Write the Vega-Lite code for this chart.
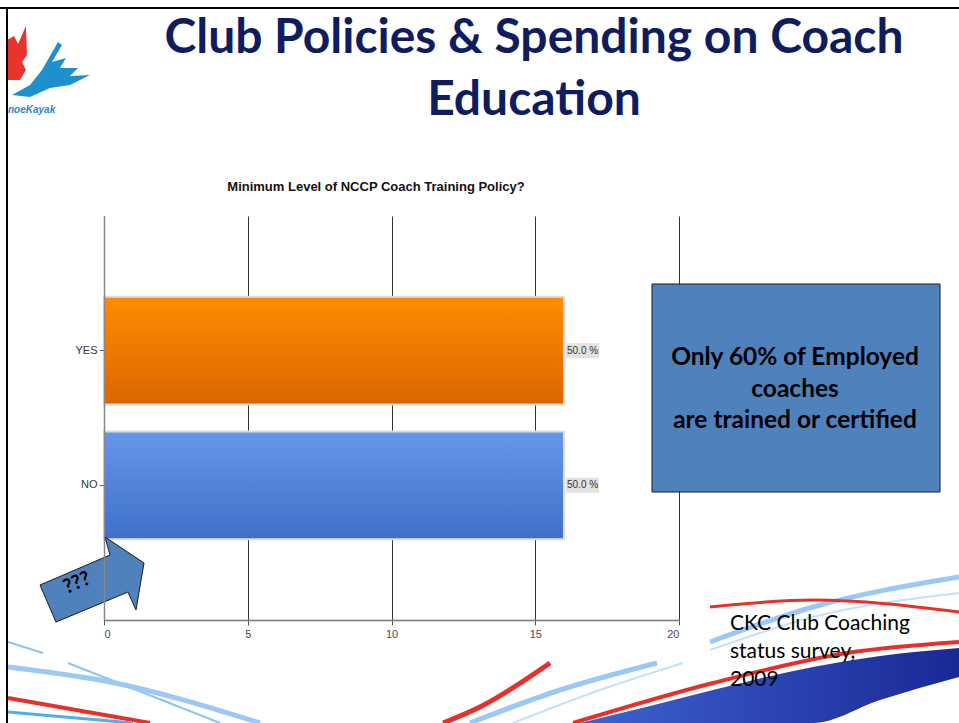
{
  "$schema": "https://vega.github.io/schema/vega-lite/v6.json",
  "width": 575,
  "height": 404,
  "autosize": {"type": "none"},
  "padding": {"left": 104, "top": 216, "right": 280, "bottom": 103},
  "background": "white",
  "config": {"view": {"stroke": null}},
  "resolve": {"scale": {"x": "independent", "y": "independent"}, "axis": {"x": "independent", "y": "independent"}},
  "layer": [
    {
      "data": {"values": [
        {"answer": "YES", "count": 16, "label": "50.0 %"},
        {"answer": "NO", "count": 16, "label": "50.0 %"}
      ]},
      "encoding": {
        "y": {"field": "answer", "type": "nominal", "sort": ["YES", "NO"],
          "scale": {"paddingInner": 0.2, "paddingOuter": 0.6},
          "axis": {"title": null, "domainColor": "#888888", "domainWidth": 1.5, "tickColor": "#666666", "tickSize": 5,
            "labelFont": "Liberation Sans", "labelFontSize": 11, "labelColor": "#333333", "labelPadding": 2, "zindex": 1}},
        "x": {"field": "count", "type": "quantitative", "scale": {"domain": [0, 20], "nice": false},
          "axis": {"title": null, "values": [0, 5, 10, 15, 20], "grid": true, "gridColor": "#333333", "gridWidth": 1, "gridOpacity": 1,
            "domainColor": "#777777", "domainWidth": 1.5, "tickColor": "#555555", "tickSize": 5,
            "labelFont": "Liberation Sans", "labelFontSize": 11, "labelColor": "#4a4a4a", "labelPadding": 3}}
      },
      "layer": [
        {"transform": [{"filter": "datum.answer === 'YES'"}],
         "mark": {"type": "bar", "stroke": "#dddddd", "strokeWidth": 2,
           "fill": {"gradient": "linear", "x1": 0, "y1": 0, "x2": 0, "y2": 1, "stops": [{"offset": 0, "color": "#ff8c00"}, {"offset": 1, "color": "#da6600"}]}}},
        {"transform": [{"filter": "datum.answer === 'NO'"}],
         "mark": {"type": "bar", "stroke": "#dddddd", "strokeWidth": 2,
           "fill": {"gradient": "linear", "x1": 0, "y1": 0, "x2": 0, "y2": 1, "stops": [{"offset": 0, "color": "#6697eb"}, {"offset": 1, "color": "#3f6fc8"}]}}},
        {"mark": {"type": "bar", "height": 15, "xOffset": 2, "x2Offset": 35, "fill": "#e2e2e2"},
         "encoding": {"x2": {"field": "count"}}},
        {"mark": {"type": "text", "align": "left", "baseline": "middle", "dx": 3, "font": "Liberation Sans", "fontSize": 10, "color": "#333333"},
         "encoding": {"text": {"field": "label"}}}
      ]
    },
    {
      "layer": [
        {
          "data": {"values": [
            {"s": "lbTR", "ax": 606, "ay": -22}, {"s": "lbTR", "ax": 709, "ay": 13}, {"s": "lbTR", "ax": 855, "ay": 43},
            {"s": "lbtR", "ax": 606, "ay": -30}, {"s": "lbtR", "ax": 709, "ay": 3}, {"s": "lbtR", "ax": 855, "ay": 27},
            {"s": "redTop", "ax": 606, "ay": 13}, {"s": "redTop", "ax": 709, "ay": 20}, {"s": "redTop", "ax": 855, "ay": 8},
            {"s": "redMid", "ax": 469, "ay": -103}, {"s": "redMid", "ax": 609, "ay": -63}, {"s": "redMid", "ax": 743, "ay": -33}, {"s": "redMid", "ax": 855, "ay": -22},
            {"s": "redRise", "ax": 339, "ay": -103}, {"s": "redRise", "ax": 376, "ay": -87}, {"s": "redRise", "ax": 446, "ay": -43},
            {"s": "lbTB", "ax": 366, "ay": -103}, {"s": "lbTB", "ax": 456, "ay": -70}, {"s": "lbTB", "ax": 553, "ay": -43},
            {"s": "lbtB", "ax": 409, "ay": -103}, {"s": "lbtB", "ax": 496, "ay": -70}, {"s": "lbtB", "ax": 579, "ay": -43},
            {"s": "lbtL1", "ax": -96, "ay": -22}, {"s": "lbtL1", "ax": -61, "ay": -33},
            {"s": "lbtL2", "ax": -36, "ay": -43}, {"s": "lbtL2", "ax": 116, "ay": -103},
            {"s": "lbTL", "ax": -96, "ay": -47}, {"s": "lbTL", "ax": 6, "ay": -62}, {"s": "lbTL", "ax": 156, "ay": -103},
            {"s": "redL", "ax": -96, "ay": -78}, {"s": "redL", "ax": 46, "ay": -103},
            {"s": "cyanL", "ax": -96, "ay": -92}, {"s": "cyanL", "ax": 29, "ay": -103}
          ]},
          "mark": {"type": "line", "interpolate": "monotone", "strokeCap": "butt"},
          "encoding": {
            "x": {"field": "ax", "type": "quantitative", "scale": {"domain": [0, 575], "nice": false, "zero": false}, "axis": null},
            "y": {"field": "ay", "type": "quantitative", "scale": {"domain": [0, 404], "nice": false, "zero": false}, "axis": null},
            "color": {"field": "s", "type": "nominal", "legend": null,
              "scale": {"domain": ["lbTR", "lbtR", "redTop", "redMid", "redRise", "lbTB", "lbtB", "lbtL1", "lbtL2", "lbTL", "redL", "cyanL"],
                "range": ["#9cc8f5", "#c6e0fa", "#e8302a", "#e8302a", "#e8302a", "#9cc8f5", "#c6e0fa", "#8cc4f0", "#8cc4f0", "#9cc8f5", "#e8302a", "#4fb0e8"]}},
            "strokeWidth": {"field": "s", "type": "nominal", "legend": null,
              "scale": {"type": "ordinal", "domain": ["lbTR", "lbtR", "redTop", "redMid", "redRise", "lbTB", "lbtB", "lbtL1", "lbtL2", "lbTL", "redL", "cyanL"],
                "range": [5, 2, 3, 4, 5, 5, 2, 2, 2, 5, 4, 3]}}
          }
        },
        {
          "data": {"values": [
            {"ax": 476, "top": -103, "bot": -103},
            {"ax": 546, "top": -86, "bot": -103},
            {"ax": 609, "top": -70, "bot": -103},
            {"ax": 709, "top": -47, "bot": -103},
            {"ax": 776, "top": -36, "bot": -80},
            {"ax": 855, "top": -28, "bot": -57}
          ]},
          "mark": {"type": "area", "interpolate": "monotone",
            "fill": {"gradient": "linear", "x1": 0, "y1": 0, "x2": 1, "y2": 0, "stops": [{"offset": 0, "color": "#3d63d0"}, {"offset": 1, "color": "#1a2896"}]}},
          "encoding": {
            "x": {"field": "ax", "type": "quantitative", "scale": {"domain": [0, 575], "nice": false, "zero": false}, "axis": null},
            "y": {"field": "top", "type": "quantitative", "scale": {"domain": [0, 404], "nice": false, "zero": false}, "axis": null},
            "y2": {"field": "bot"}
          }
        },
        {
          "data": {"values": [{"ax": -87, "ay": 567}]},
          "mark": {"type": "point", "filled": true, "opacity": 1, "size": 2916, "color": "#e8332e",
            "shape": "M-0.37,-0.48L-0.11,-0.63L0.04,-0.33L0.33,-1L0.37,0.07L0.19,0.33L0.33,0.63L0.11,1L-0.37,1Z"},
          "encoding": {
            "x": {"field": "ax", "type": "quantitative", "scale": {"domain": [0, 575], "nice": false, "zero": false}, "axis": null},
            "y": {"field": "ay", "type": "quantitative", "scale": {"domain": [0, 404], "nice": false, "zero": false}, "axis": null}
          }
        },
        {
          "data": {"values": [{"ax": -54, "ay": 550}]},
          "mark": {"type": "point", "filled": true, "opacity": 1, "size": 6400, "color": "#1e90d0",
            "shape": "M-0.95,0.625L-0.5,0.375L-0.2,0L0.2,-0.7L0.3,-0.625L0.05,-0.2L0.4,-0.3L0.25,-0.05L0.7,-0.05L0.5,0.15L1,0.125L0.5,0.375L0,0.45L-0.5,0.675Z"},
          "encoding": {
            "x": {"field": "ax", "type": "quantitative", "scale": {"domain": [0, 575], "nice": false, "zero": false}, "axis": null},
            "y": {"field": "ay", "type": "quantitative", "scale": {"domain": [0, 404], "nice": false, "zero": false}, "axis": null}
          }
        },
        {
          "data": {"values": [
            {"ax": -104, "ay": 612, "ax2": 855, "ay2": 612},
            {"ax": -97, "ay": 612, "ax2": -97, "ay2": -103}
          ]},
          "mark": {"type": "rule", "color": "#000000", "strokeWidth": 2},
          "encoding": {
            "x": {"field": "ax", "type": "quantitative", "scale": {"domain": [0, 575], "nice": false, "zero": false}, "axis": null},
            "y": {"field": "ay", "type": "quantitative", "scale": {"domain": [0, 404], "nice": false, "zero": false}, "axis": null},
            "x2": {"field": "ax2"},
            "y2": {"field": "ay2"}
          }
        },
        {
          "data": {"values": [{"ax": -96, "ay": 510, "t": "noeKayak"}]},
          "mark": {"type": "text", "align": "left", "baseline": "middle", "font": "Liberation Sans", "fontSize": 10, "fontWeight": "bold", "fontStyle": "italic", "color": "#2a86c8"},
          "encoding": {
            "x": {"field": "ax", "type": "quantitative", "scale": {"domain": [0, 575], "nice": false, "zero": false}, "axis": null},
            "y": {"field": "ay", "type": "quantitative", "scale": {"domain": [0, 404], "nice": false, "zero": false}, "axis": null},
            "text": {"field": "t"}
          }
        },
        {
          "data": {"values": [
            {"ax": 430, "ay": 567, "t": "Club Policies & Spending on Coach"},
            {"ax": 430, "ay": 505, "t": "Education"}
          ]},
          "mark": {"type": "text", "align": "center", "baseline": "alphabetic", "font": "Lato", "fontSize": 48, "fontWeight": "bold", "color": "#0f1d5e"},
          "encoding": {
            "x": {"field": "ax", "type": "quantitative", "scale": {"domain": [0, 575], "nice": false, "zero": false}, "axis": null},
            "y": {"field": "ay", "type": "quantitative", "scale": {"domain": [0, 404], "nice": false, "zero": false}, "axis": null},
            "text": {"field": "t"}
          }
        },
        {
          "data": {"values": [{"ax": 272, "ay": 429, "t": "Minimum Level of NCCP Coach Training Policy?"}]},
          "mark": {"type": "text", "align": "center", "baseline": "alphabetic", "font": "Liberation Sans", "fontSize": 13, "fontWeight": "bold", "color": "#111111"},
          "encoding": {
            "x": {"field": "ax", "type": "quantitative", "scale": {"domain": [0, 575], "nice": false, "zero": false}, "axis": null},
            "y": {"field": "ay", "type": "quantitative", "scale": {"domain": [0, 404], "nice": false, "zero": false}, "axis": null},
            "text": {"field": "t"}
          }
        },
        {
          "data": {"values": [{"ax": 548, "ay": 336, "ax2": 836, "ay2": 128}]},
          "mark": {"type": "rect", "fill": "#4f81bd", "stroke": "#1a1a1a", "strokeWidth": 1},
          "encoding": {
            "x": {"field": "ax", "type": "quantitative", "scale": {"domain": [0, 575], "nice": false, "zero": false}, "axis": null},
            "y": {"field": "ay", "type": "quantitative", "scale": {"domain": [0, 404], "nice": false, "zero": false}, "axis": null},
            "x2": {"field": "ax2"},
            "y2": {"field": "ay2"}
          }
        },
        {
          "data": {"values": [
            {"ax": 691, "ay": 255, "t": "Only 60% of Employed"},
            {"ax": 691, "ay": 223, "t": "coaches"},
            {"ax": 691, "ay": 192, "t": "are trained or certified"}
          ]},
          "mark": {"type": "text", "align": "center", "baseline": "alphabetic", "font": "Lato", "fontSize": 24.5, "fontWeight": "bold", "color": "#000000"},
          "encoding": {
            "x": {"field": "ax", "type": "quantitative", "scale": {"domain": [0, 575], "nice": false, "zero": false}, "axis": null},
            "y": {"field": "ay", "type": "quantitative", "scale": {"domain": [0, 404], "nice": false, "zero": false}, "axis": null},
            "text": {"field": "t"}
          }
        },
        {
          "data": {"values": [{"ax": -12, "ay": 40}]},
          "mark": {"type": "point", "filled": true, "opacity": 1, "size": 10816, "fill": "#4f81bd", "stroke": "#1a1a1a", "strokeWidth": 1,
            "shape": "M-1,0.096L0.346,-0.481L0.25,-0.827L1,-0.327L0.846,0.577L0.692,0.231L-0.692,0.808Z"},
          "encoding": {
            "x": {"field": "ax", "type": "quantitative", "scale": {"domain": [0, 575], "nice": false, "zero": false}, "axis": null},
            "y": {"field": "ay", "type": "quantitative", "scale": {"domain": [0, 404], "nice": false, "zero": false}, "axis": null}
          }
        },
        {
          "data": {"values": [{"ax": -27, "ay": 37, "t": "???"}]},
          "mark": {"type": "text", "align": "center", "baseline": "middle", "angle": -23, "font": "Lato", "fontSize": 20, "fontWeight": "bold", "color": "#000000"},
          "encoding": {
            "x": {"field": "ax", "type": "quantitative", "scale": {"domain": [0, 575], "nice": false, "zero": false}, "axis": null},
            "y": {"field": "ay", "type": "quantitative", "scale": {"domain": [0, 404], "nice": false, "zero": false}, "axis": null},
            "text": {"field": "t"}
          }
        },
        {
          "data": {"values": [
            {"ax": 626, "ay": -10, "t": "CKC Club Coaching"},
            {"ax": 626, "ay": -38, "t": "status survey,"},
            {"ax": 626, "ay": -66, "t": "2009"}
          ]},
          "mark": {"type": "text", "align": "left", "baseline": "alphabetic", "font": "Lato", "fontSize": 21, "color": "#000000"},
          "encoding": {
            "x": {"field": "ax", "type": "quantitative", "scale": {"domain": [0, 575], "nice": false, "zero": false}, "axis": null},
            "y": {"field": "ay", "type": "quantitative", "scale": {"domain": [0, 404], "nice": false, "zero": false}, "axis": null},
            "text": {"field": "t"}
          }
        }
      ]
    }
  ]
}
